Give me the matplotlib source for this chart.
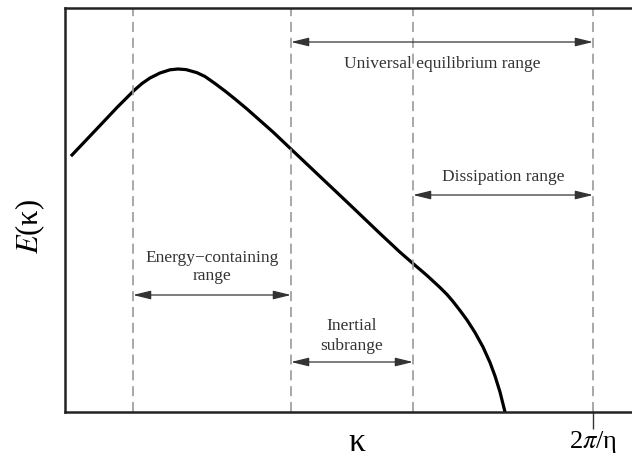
import matplotlib.pyplot as plt

plt.rcParams['font.family'] = ['Liberation Serif', 'DejaVu Serif']
plt.rcParams['mathtext.fontset'] = 'stix'

# Energy spectrum curve (arbitrary units)
kappa = [7, 20, 35, 52, 69, 77, 85, 95, 105, 113, 121, 132, 140, 150, 160, 170,
         182, 195, 208, 227, 255, 282, 315, 335, 348, 362, 375, 382, 388, 395,
         402, 410, 418, 425, 430, 435, 440]
energy = [257, 270.7, 286.5, 304.5, 321.5, 328.5, 334, 339, 342.2, 343, 342.4,
          339.3, 335.5, 328.5, 321, 313, 303, 291.5, 280, 262, 235.5, 210, 178.5,
          159.8, 148.5, 136.5, 124.5, 117.5, 110.5, 101.5, 92, 79.5, 65, 49.5,
          36, 20, 0]

# Range boundaries (dashed lines); the last one carries the 2pi/eta tick
bounds = [68, 226, 348, 528]

# Arrows: label, start, end, arrow height, label height
ranges = [
    ('Universal equilibrium range', 226, 528, 370, 348),
    ('Dissipation range', 348, 528, 217, 235),
    ('Energy\u2212containing\nrange', 68, 226, 117, 145),
    ('Inertial\nsubrange', 226, 348, 50, 76),
]

fig = plt.figure(figsize=(6.32, 4.62), dpi=100)
ax = fig.add_axes([65 / 632, 50 / 462, 567 / 632, 404 / 462])

ax.plot(kappa, energy, color='black', lw=2.3, solid_joinstyle='round')

for b in bounds:
    ax.axvline(b, color='#999999', lw=1.2, dashes=(6, 3.5))

for label, x0, x1, y, ty in ranges:
    ax.annotate('', xy=(x1, y), xytext=(x0, y),
                arrowprops=dict(arrowstyle='<|-|>,head_length=0.9,head_width=0.22',
                                color='#333333', lw=0.9, shrinkA=0, shrinkB=0,
                                mutation_scale=12))
    ax.text((x0 + x1) / 2, ty, label, ha='center', va='center',
            fontsize=12.5, color='#333333', linespacing=1.25)

ax.set_xlim(0, 567)
ax.set_ylim(0, 404)
ax.spines['right'].set_visible(False)
for s in ['left', 'top', 'bottom']:
    ax.spines[s].set_linewidth(1.8)
    ax.spines[s].set_color('#222222')

ax.set_yticks([])
ax.set_xticks([bounds[-1]])
ax.set_xticklabels(['2$\\pi$/\u03b7'], fontsize=19)
ax.tick_params(axis='x', direction='out', length=12, width=1, color='#333333', pad=0)

ax.set_xlabel('\u03ba', fontsize=24, va='center')
ax.xaxis.set_label_coords(0.515, -0.077)
ax.set_ylabel('$E$(\u03ba)', fontsize=22, va='center')
ax.yaxis.set_label_coords(-0.062, 0.46)

fig.savefig('out.png', dpi=100)
